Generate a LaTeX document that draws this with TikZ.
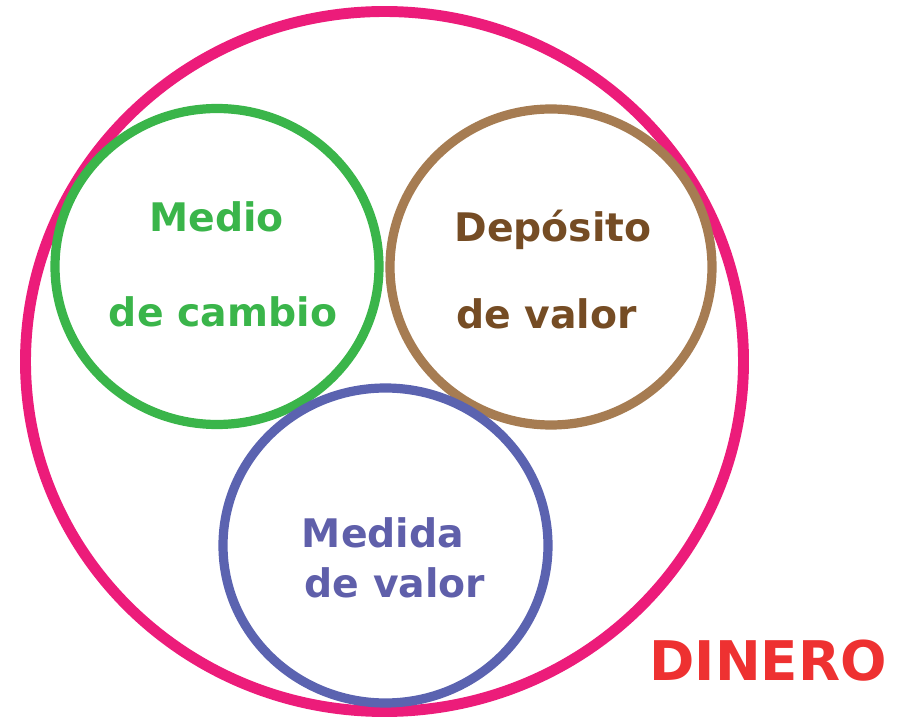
\documentclass[tikz,border=0pt]{standalone}
\usepackage{fontspec}
\setmainfont{DejaVu Sans}
\usepackage{tikz}

\definecolor{dineropink}{HTML}{EC1C7A}
\definecolor{cambiogreen}{HTML}{3AB54A}
\definecolor{depositobrown}{HTML}{A67C52}
\definecolor{depositotext}{HTML}{754C24}
\definecolor{medidablue}{HTML}{5B63B0}
\definecolor{medidatext}{HTML}{5F5FAA}
\definecolor{dinerored}{HTML}{EE3131}

\begin{document}
\begin{tikzpicture}[x=0.75pt, y=-0.75pt,
		label/.style={inner sep=0pt, anchor=base, font=\fontsize{29.5pt}{30pt}\selectfont\bfseries}]
		\useasboundingbox (0, 0) rectangle (908, 720);
		% outer ring
		\draw [line width=8.2pt, dineropink] (384.5, 361.5) ellipse (359 and 350);
		% three functions
		\draw [line width=6.9pt, cambiogreen] (217, 266.5) ellipse (162 and 158);
		\draw [line width=6.9pt, depositobrown] (551, 267) ellipse (161 and 158);
		\draw [line width=6.9pt, medidablue] (385.5, 545.5) ellipse (162.5 and 157.5);
		% labels
		\node [label, cambiogreen] (medio) at (216.5, 232) {Medio};
		\node [label, cambiogreen] (cambio) at (223, 327) {de cambio};
		\node [label, depositotext] (deposito) at (553, 242) {Depósito};
		\node [label, depositotext] (valorA) at (546.5, 329) {de valor};
		\node [label, medidatext] (medida) at (383, 547) {Medida};
		\node [label, medidatext] (valorB) at (395, 597) {de valor};
		\node [label, dinerored, font=\fontsize{41pt}{42pt}\selectfont\bfseries] (dinero) at (768, 680) {DINERO};
	\end{tikzpicture}
\end{document}
